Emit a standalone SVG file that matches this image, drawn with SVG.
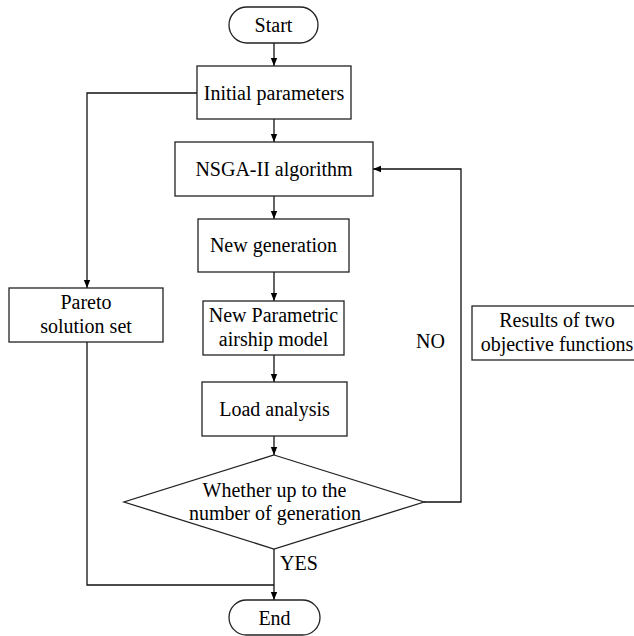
<svg xmlns="http://www.w3.org/2000/svg" width="634" height="636" viewBox="0 0 634 636">
<defs>
<marker id="ah" viewBox="0 0 10 10" refX="10" refY="5" markerWidth="8" markerHeight="8" markerUnits="userSpaceOnUse" orient="auto">
<path d="M0,1 L10,5 L0,9 Z" fill="#000"/>
</marker>
</defs>
<style>
.box{fill:#fff;stroke:#222;stroke-width:1.3}
.t{font-family:'Liberation Serif','Tinos','DejaVu Serif','Noto Serif',serif;font-size:20px;fill:#000;text-anchor:middle}
.c{fill:none;stroke:#111;stroke-width:1.3}
</style>
<rect width="634" height="636" fill="#fff"/>
<g id="connectors">
<line class="c" x1="274" y1="43" x2="274" y2="66" marker-end="url(#ah)"/>
<polyline class="c" points="197,93 87,93 87,288" marker-end="url(#ah)"/>
<line class="c" x1="274" y1="119" x2="274" y2="142" marker-end="url(#ah)"/>
<line class="c" x1="274" y1="196" x2="274" y2="219" marker-end="url(#ah)"/>
<line class="c" x1="274" y1="272" x2="274" y2="301" marker-end="url(#ah)"/>
<line class="c" x1="274" y1="355" x2="274" y2="382" marker-end="url(#ah)"/>
<line class="c" x1="274" y1="436" x2="274" y2="455" marker-end="url(#ah)"/>
<polyline class="c" points="424,502 461,502 461,169 373,169" marker-end="url(#ah)"/>
<line class="c" x1="274" y1="549" x2="274" y2="600" marker-end="url(#ah)"/>
<polyline class="c" points="87,342 87,585 274,585"/>
<text class="t" x="416" y="348" style="text-anchor:start">NO</text>
<text class="t" x="280" y="570" style="text-anchor:start">YES</text>
</g>
<g id="start">
<rect class="box" x="229" y="7" width="89" height="36" rx="18" ry="18"/>
<text class="t" x="273.5" y="32">Start</text>
</g>
<g id="initial">
<rect class="box" x="197" y="66" width="154" height="53"/>
<text class="t" x="274" y="100">Initial parameters</text>
</g>
<g id="nsga">
<rect class="box" x="175" y="142" width="198" height="54"/>
<text class="t" x="274" y="176">NSGA-II algorithm</text>
</g>
<g id="newgen">
<rect class="box" x="198" y="219" width="151" height="53"/>
<text class="t" x="273.5" y="252">New generation</text>
</g>
<g id="model">
<rect class="box" x="203" y="301" width="141" height="54"/>
<text class="t" x="273.5" y="322">New Parametric</text>
<text class="t" x="273.5" y="346">airship model</text>
</g>
<g id="pareto">
<rect class="box" x="9" y="288" width="154" height="54"/>
<text class="t" x="86" y="309">Pareto</text>
<text class="t" x="86" y="333">solution set</text>
</g>
<g id="results">
<rect class="box" x="472" y="306" width="170" height="54"/>
<text class="t" x="557" y="327">Results of two</text>
<text class="t" x="557" y="351">objective functions</text>
</g>
<g id="load">
<rect class="box" x="202" y="382" width="145" height="54"/>
<text class="t" x="274.5" y="416">Load analysis</text>
</g>
<g id="decision">
<polygon class="box" points="274,455 424,502 274,549 124,502"/>
<text class="t" x="274.5" y="497">Whether up to the</text>
<text class="t" x="275" y="520">number of generation</text>
</g>
<g id="end">
<rect class="box" x="229" y="600" width="91" height="35" rx="17.5" ry="17.5"/>
<text class="t" x="274.5" y="625">End</text>
</g>
</svg>
